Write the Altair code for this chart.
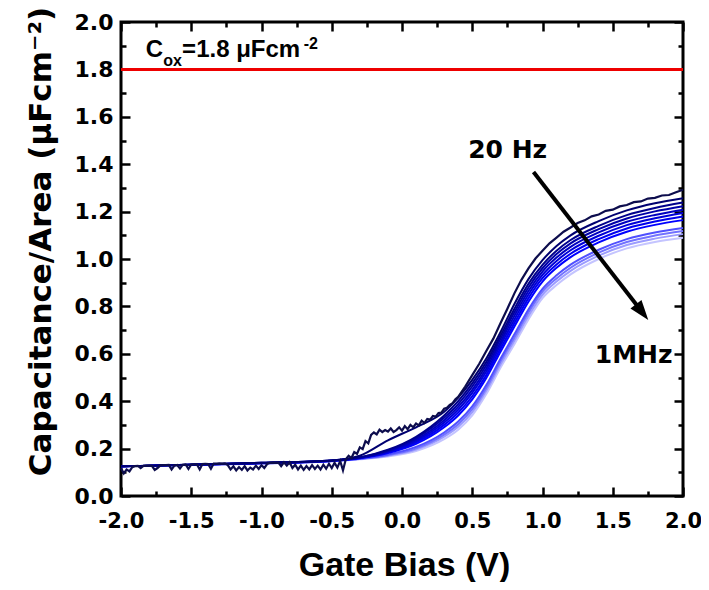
import altair as alt
import pandas as pd

# ---------------- data ----------------
V_SMOOTH = [-2.0, -1.0, -0.5, -0.3, -0.1, 0.1, 0.3, 0.4, 0.5, 0.6, 0.7, 0.8, 0.9,
            1.0, 1.1, 1.2, 1.4, 1.6, 1.8, 2.0]

# smooth curves, lightest (1 MHz) first, darkest last
C_S01 = [.125, .137, .147, .155, .167, .190, .240, .280, .340, .430, .540, .640, .745, .835, .890, .935, 1.000, 1.045, 1.072, 1.090]
C_S02 = [.125, .137, .147, .156, .170, .196, .250, .292, .354, .444, .554, .655, .760, .849, .905, .950, 1.014, 1.059, 1.086, 1.105]
C_S03 = [.125, .138, .148, .157, .172, .201, .259, .303, .366, .456, .566, .669, .774, .862, .918, .963, 1.027, 1.072, 1.099, 1.118]
C_S04 = [.125, .138, .148, .157, .175, .207, .268, .314, .378, .468, .578, .682, .787, .874, .931, .976, 1.039, 1.084, 1.112, 1.131]
C_S05 = [.125, .139, .148, .159, .181, .220, .290, .340, .408, .498, .608, .715, .820, .905, .963, 1.008, 1.070, 1.115, 1.144, 1.164]
C_S06 = [.125, .139, .149, .160, .184, .226, .300, .352, .421, .511, .621, .730, .835, .919, .977, 1.022, 1.084, 1.129, 1.158, 1.179]
C_S07 = [.125, .139, .149, .161, .187, .232, .310, .364, .435, .525, .635, .745, .850, .933, .992, 1.037, 1.098, 1.143, 1.172, 1.194]
C_S08 = [.125, .139, .149, .161, .189, .238, .320, .376, .448, .538, .648, .760, .865, .947, 1.006, 1.051, 1.112, 1.157, 1.186, 1.208]
C_S09 = [.125, .140, .150, .162, .192, .244, .330, .388, .462, .552, .662, .775, .880, .961, 1.021, 1.066, 1.126, 1.171, 1.201, 1.223]
C_S10 = [.125, .140, .150, .163, .195, .250, .340, .400, .475, .565, .675, .790, .895, .975, 1.035, 1.080, 1.140, 1.185, 1.215, 1.238]
C_S11 = [.125, .140, .150, .170, .235, .290, .355, .415, .490, .580, .690, .810, .915, .995, 1.055, 1.100, 1.160, 1.205, 1.235, 1.256]

SMOOTH_NAMES = ["s01", "s02", "s03", "s04", "s05", "s06", "s07", "s08", "s09", "s10", "s11"]
SMOOTH_VALUES = [C_S01, C_S02, C_S03, C_S04, C_S05, C_S06, C_S07, C_S08, C_S09, C_S10, C_S11]
SMOOTH_COLORS = ["#c4c4ff", "#9c9cff", "#7272ff", "#5050ff", "#0000ff", "#0000ee",
                 "#0000d8", "#0000c0", "#0000a8", "#00008c", "#000070"]

# 20 Hz curve (noisy)
V_20HZ = [-2.00, -1.98, -1.96, -1.94, -1.92, -1.90, -1.88, -1.86, -1.84, -1.82,
          -1.80, -1.78, -1.76, -1.74, -1.72, -1.70, -1.68, -1.66, -1.64, -1.62,
          -1.60, -1.58, -1.56, -1.54, -1.52, -1.50, -1.48, -1.46, -1.44, -1.42,
          -1.40, -1.38, -1.36, -1.34, -1.32, -1.30, -1.28, -1.26, -1.24, -1.22,
          -1.20, -1.18, -1.16, -1.14, -1.12, -1.10, -1.08, -1.06, -1.04, -1.02,
          -1.00, -0.98, -0.96, -0.94, -0.92, -0.90, -0.88, -0.86, -0.84, -0.82,
          -0.80, -0.78, -0.76, -0.74, -0.72, -0.70, -0.68, -0.66, -0.64, -0.62,
          -0.60, -0.58, -0.56, -0.54, -0.52, -0.50, -0.48, -0.46, -0.44, -0.42,
          -0.40, -0.38, -0.36, -0.34, -0.32, -0.30, -0.28, -0.26, -0.24, -0.22,
          -0.20, -0.18, -0.16, -0.14, -0.12, -0.10, -0.08, -0.06, -0.04, -0.02,
          0.00, 0.02, 0.04, 0.06, 0.08, 0.10, 0.12, 0.14, 0.16, 0.18,
          0.20, 0.22, 0.24, 0.26, 0.28, 0.30, 0.32, 0.34, 0.36, 0.38, 0.40,
          0.45, 0.50, 0.55, 0.60, 0.65, 0.70, 0.75, 0.80, 0.85, 0.90,
          0.95, 1.00, 1.05, 1.10, 1.15, 1.20, 1.25, 1.30, 1.35, 1.40,
          1.45, 1.50, 1.55, 1.60, 1.65, 1.70, 1.75, 1.80, 1.85, 1.90,
          1.95, 2.00]
C_20HZ = [0.118, 0.095, 0.112, 0.104, 0.122, 0.126, 0.127, 0.118, 0.127, 0.128,
          0.128, 0.127, 0.110, 0.118, 0.129, 0.130, 0.130, 0.131, 0.112, 0.128,
          0.131, 0.116, 0.132, 0.133, 0.114, 0.133, 0.134, 0.134, 0.112, 0.135,
          0.136, 0.135, 0.115, 0.137, 0.137, 0.138, 0.137, 0.138, 0.130, 0.112,
          0.125, 0.108, 0.122, 0.110, 0.126, 0.108, 0.120, 0.112, 0.128, 0.114,
          0.130, 0.118, 0.135, 0.140, 0.141, 0.140, 0.141, 0.126, 0.142, 0.128,
          0.142, 0.118, 0.132, 0.112, 0.128, 0.110, 0.126, 0.112, 0.130, 0.114,
          0.128, 0.112, 0.132, 0.115, 0.136, 0.118, 0.140, 0.120, 0.148, 0.108,
          0.155, 0.170, 0.160, 0.185, 0.178, 0.205, 0.198, 0.232, 0.222, 0.258,
          0.268, 0.260, 0.280, 0.270, 0.278, 0.272, 0.285, 0.270, 0.278, 0.290,
          0.276, 0.295, 0.282, 0.300, 0.290, 0.306, 0.298, 0.318, 0.308, 0.325,
          0.322, 0.338, 0.335, 0.350, 0.352, 0.368, 0.372, 0.385, 0.392, 0.408, 0.418,
          0.462, 0.510, 0.558, 0.612, 0.664, 0.728, 0.790, 0.855, 0.912, 0.960,
          1.002, 1.035, 1.066, 1.090, 1.115, 1.133, 1.152, 1.163, 1.180, 1.188,
          1.203, 1.208, 1.222, 1.228, 1.240, 1.243, 1.255, 1.258, 1.268, 1.270,
          1.282, 1.292]

COX = 1.8
X_MAJOR = [-2.0, -1.5, -1.0, -0.5, 0.0, 0.5, 1.0, 1.5, 2.0]
X_MINOR = [-1.75, -1.25, -0.75, -0.25, 0.25, 0.75, 1.25, 1.75]
Y_MAJOR = [0.0, 0.2, 0.4, 0.6, 0.8, 1.0, 1.2, 1.4, 1.6, 1.8, 2.0]
Y_MINOR = [0.1, 0.3, 0.5, 0.7, 0.9, 1.1, 1.3, 1.5, 1.7, 1.9]

# annotation texts
COX_PARTS = ["C", "ox", "=1.8 \u03bcFcm", "-2"]
COX_X = [-1.823, -1.700, -1.565, -0.700]
COX_Y = [1.852, 1.814, 1.852, 1.886]
COX_FS = [24, 16, 24, 16]
LABELS = ["20 Hz", "1MHz"]
LABEL_X = [0.752, 1.649]
LABEL_Y = [1.46, 0.593]
ARROW = {"x": [0.936], "y": [1.367], "x2": [1.709], "y2": [0.776]}

# ---------------- frames ----------------
rows = []
for name, vals in zip(SMOOTH_NAMES, SMOOTH_VALUES):
    for v, c in zip(V_SMOOTH, vals):
        rows.append({"V": v, "C": c, "series": name})
smooth_df = pd.DataFrame(rows)
noisy_df = pd.DataFrame({"V": V_20HZ, "C": C_20HZ})
cox_df = pd.DataFrame({"x": [-2.0], "x2": [2.0], "y": [COX]})
coxtxt_df = pd.DataFrame({"t": COX_PARTS, "x": COX_X, "y": COX_Y, "fs": COX_FS})
lab_df = pd.DataFrame({"t": LABELS, "x": LABEL_X, "y": LABEL_Y})
arrow_df = pd.DataFrame(ARROW)

XS = alt.Scale(domain=[-2, 2], nice=False, zero=False)
YS = alt.Scale(domain=[0, 2], nice=False, zero=False)
TF = "DejaVu Sans"
TITLEF = "Liberation Sans"

def tick_axis(orient, values, size, **kw):
    base = dict(orient=orient, values=values, offset=-size, tickSize=size,
                tickWidth=2.5, tickColor="black", domain=False, grid=False,
                labels=False, title=None)
    base.update(kw)
    return alt.Axis(**base)

x_main = tick_axis("bottom", X_MAJOR, 9, labels=True,
                   labelExpr="(datum.value < 0 ? '-' : '') + format(abs(datum.value), '.1f')",
                   labelFont=TF, labelFontWeight="bold", labelFontSize=21,
                   labelColor="black", labelPadding=14, labelFlush=False,
                   labelOverlap=False, labelBound=False,
                   title="Gate Bias (V)", titleFont=TITLEF, titleFontSize=34,
                   titleFontWeight="bold", titleColor="black",
                   titleBaseline="alphabetic", titleY=88, titleX=283)
y_main = tick_axis("left", Y_MAJOR, 9, labels=True, format=".1f",
                   labelFont=TF, labelFontWeight="bold", labelFontSize=22,
                   labelColor="black", labelPadding=8, labelFlush=False,
                   labelOverlap=False, labelBound=False,
                   title="Capacitance/Area (\u03bcFcm\u207b\u00b2)", titleFont=TF,
                   titleFontSize=31, titleFontWeight="bold", titleColor="black",
                   titleBaseline="alphabetic", titleAngle=270,
                   titleX=-80, titleY=219)

smooth = alt.Chart(smooth_df).mark_line(strokeWidth=2, interpolate="monotone").encode(
    x=alt.X("V:Q", scale=XS, axis=x_main),
    y=alt.Y("C:Q", scale=YS, axis=y_main),
    color=alt.Color("series:N", scale=alt.Scale(domain=SMOOTH_NAMES, range=SMOOTH_COLORS), legend=None),
)

noisy = alt.Chart(noisy_df).mark_line(strokeWidth=2.2, color="#0d0d4d").encode(
    x=alt.X("V:Q", scale=XS, axis=None),
    y=alt.Y("C:Q", scale=YS, axis=None),
)

red = alt.Chart(cox_df).mark_rule(color="#ee0000", strokeWidth=3).encode(
    x=alt.X("x:Q", scale=XS, axis=tick_axis("bottom", X_MINOR, 5)),
    x2="x2:Q",
    y=alt.Y("y:Q", scale=YS, axis=tick_axis("left", Y_MINOR, 5)),
)

arrow = alt.Chart(arrow_df).mark_rule(color="black", strokeWidth=4).encode(
    x=alt.X("x:Q", scale=XS, axis=tick_axis("top", X_MAJOR, 9)),
    y=alt.Y("y:Q", scale=YS, axis=tick_axis("right", Y_MAJOR, 9)),
    x2="x2:Q", y2="y2:Q",
)

head = alt.Chart(arrow_df).mark_point(
    shape="M0,1L-0.7,-1L0.7,-1Z", filled=True, color="black", opacity=1,
    size=400, angle=322).encode(
    x=alt.X("x2:Q", scale=XS, axis=None),
    y=alt.Y("y2:Q", scale=YS, axis=None),
)

coxtxt = alt.Chart(coxtxt_df).mark_text(
    align="left", baseline="alphabetic", font=TITLEF, fontWeight="bold", color="black").encode(
    x=alt.X("x:Q", scale=XS, axis=tick_axis("top", X_MINOR, 5)),
    y=alt.Y("y:Q", scale=YS, axis=tick_axis("right", Y_MINOR, 5)),
    text="t:N",
    size=alt.Size("fs:Q", scale=None),
)

labels = alt.Chart(lab_df).mark_text(
    align="center", baseline="middle", font=TF, fontWeight="bold", fontSize=25, color="black").encode(
    x=alt.X("x:Q", scale=XS, axis=None),
    y=alt.Y("y:Q", scale=YS, axis=None),
    text="t:N",
)

chart = alt.layer(smooth, noisy, red, arrow, head, coxtxt, labels).resolve_axis(
    x="independent", y="independent"
).properties(
    width=562, height=474,
    autosize=alt.AutoSizeParams(type="none"),
    padding={"left": 113, "top": 14, "right": 18, "bottom": 86},
).configure_view(stroke="black", strokeWidth=3)

chart.save("out.html", embed_options={"renderer": "svg", "actions": False})
